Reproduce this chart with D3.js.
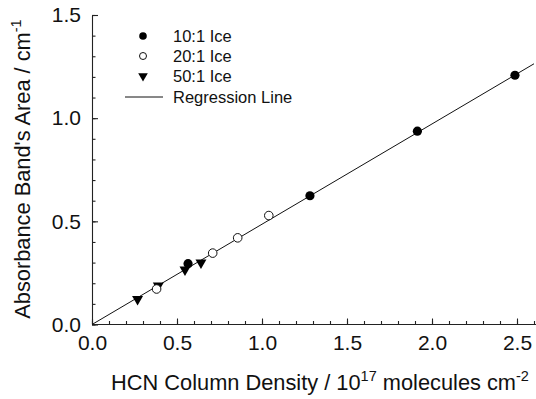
<!DOCTYPE html>
<html>
<head>
<meta charset="utf-8">
<script src="https://cdn.jsdelivr.net/npm/d3@7"></script>
<style>
  body { margin: 0; background: #fff; }
  text { font-family: "Liberation Sans", Arial, sans-serif; fill: #111; }
</style>
</head>
<body>
<div class="chart"></div>
<script>
// data
var ice10x = [0.565, 1.282, 1.914, 2.488];
var ice10y = [0.295, 0.624, 0.937, 1.208];
var ice20x = [0.380, 0.710, 0.857, 1.040];
var ice20y = [0.172, 0.346, 0.420, 0.528];
var ice50x = [0.268, 0.390, 0.547, 0.641];
var ice50y = [0.123, 0.188, 0.266, 0.300];
var regSlope = 0.486;
var regX = [0, 2.6];
var xTicks = [0, 0.5, 1.0, 1.5, 2.0, 2.5];
var yTicks = [0, 0.5, 1.0, 1.5];
var legendLabels = ["10:1 Ice", "20:1 Ice", "50:1 Ice", "Regression Line"];

var w = 536, h = 399;

var x = d3.scaleLinear().domain([0, 2.6]).range([92, 534]);
var y = d3.scaleLinear().domain([0, 1.5]).range([324.5, 15]);

var svg = d3.select(".chart")
            .append("svg")
            .attr("width", w)
            .attr("height", h);

// minor ticks
svg.append("g")
   .attr("transform", "translate(0," + y(0) + ")")
   .call(d3.axisBottom(x).tickValues(d3.range(0, 2.61, 0.1)).tickSize(-3.5).tickFormat(""))
   .call(function(g) { g.select(".domain").remove(); });
svg.append("g")
   .attr("transform", "translate(" + x(0) + ",0)")
   .call(d3.axisLeft(y).tickValues(d3.range(0, 1.51, 0.1)).tickSize(-3.5).tickFormat(""))
   .call(function(g) { g.select(".domain").remove(); });

// major axes
var xAxis = svg.append("g")
   .attr("transform", "translate(0," + y(0) + ")")
   .call(d3.axisBottom(x).tickValues(xTicks).tickSize(-6).tickSizeOuter(0).tickPadding(11).tickFormat(d3.format(".1f")));
var yAxis = svg.append("g")
   .attr("transform", "translate(" + x(0) + ",0)")
   .call(d3.axisLeft(y).tickValues(yTicks).tickSize(-6).tickSizeOuter(0).tickPadding(11).tickFormat(d3.format(".1f")));

svg.selectAll(".tick line, .domain").attr("stroke", "#222").attr("stroke-width", 1.1);
[xAxis, yAxis].forEach(function(a) {
  a.selectAll("text").attr("font-size", 21).attr("font-family", "Liberation Sans, Arial, sans-serif").attr("fill", "#111");
});
// x domain runs to the edge
xAxis.select(".domain").attr("d", "M" + x(0) + ",0H" + w);

// regression line
svg.append("path")
   .datum(regX)
   .attr("fill", "none")
   .attr("stroke", "#111")
   .attr("stroke-width", 1)
   .attr("d", d3.line().x(function(d) { return x(d); }).y(function(d) { return y(regSlope * d); }));

var tri = d3.symbol().type(d3.symbolTriangle).size(52);

// 50:1 triangles (down)
svg.selectAll("path.t50")
   .data(ice50x)
   .enter()
   .append("path")
   .attr("class", "t50")
   .attr("d", tri)
   .attr("fill", "#000")
   .attr("transform", function(d, i) { return "translate(" + x(d) + "," + y(ice50y[i]) + ") rotate(180)"; });

// 20:1 open circles
svg.selectAll("circle.c20")
   .data(ice20x)
   .enter()
   .append("circle")
   .attr("class", "c20")
   .attr("cx", function(d) { return x(d); })
   .attr("cy", function(d, i) { return y(ice20y[i]); })
   .attr("r", 4.3)
   .attr("fill", "#fff")
   .attr("stroke", "#111")
   .attr("stroke-width", 1);

// 10:1 filled circles
svg.selectAll("circle.c10")
   .data(ice10x)
   .enter()
   .append("circle")
   .attr("class", "c10")
   .attr("cx", function(d) { return x(d); })
   .attr("cy", function(d, i) { return y(ice10y[i]); })
   .attr("r", 4.6)
   .attr("fill", "#000");

// legend
var leg = svg.append("g");
var legY = [36, 56, 76, 97];
leg.append("circle").attr("cx", 143).attr("cy", legY[0]).attr("r", 3.8).attr("fill", "#000");
leg.append("circle").attr("cx", 143).attr("cy", legY[1]).attr("r", 3.5).attr("fill", "#fff").attr("stroke", "#111");
leg.append("path").attr("d", d3.symbol().type(d3.symbolTriangle).size(40))
   .attr("transform", "translate(143," + legY[2] + ") rotate(180)").attr("fill", "#000");
leg.append("line").attr("x1", 125).attr("x2", 163).attr("y1", legY[3]).attr("y2", legY[3])
   .attr("stroke", "#111").attr("stroke-width", 1);
leg.selectAll("text")
   .data(legendLabels)
   .enter()
   .append("text")
   .attr("x", 173)
   .attr("y", function(d, i) { return legY[i] + 6; })
   .attr("font-size", 16.5)
   .text(function(d) { return d; });

// axis titles
var xt = svg.append("text")
   .attr("x", 320)
   .attr("y", 390)
   .attr("text-anchor", "middle")
   .attr("font-size", 21.8);
xt.append("tspan").text("HCN Column Density / 10");
xt.append("tspan").attr("dy", -9).attr("font-size", 14.5).text("17");
xt.append("tspan").attr("dy", 9).text(" molecules cm");
xt.append("tspan").attr("dy", -9).attr("font-size", 14.5).text("-2");

var yt = svg.append("text")
   .attr("transform", "translate(30,169) rotate(-90)")
   .attr("text-anchor", "middle")
   .attr("font-size", 21.8);
yt.append("tspan").text("Absorbance Band's Area / cm");
yt.append("tspan").attr("dy", -9).attr("font-size", 14.5).text("-1");
</script>
</body>
</html>
